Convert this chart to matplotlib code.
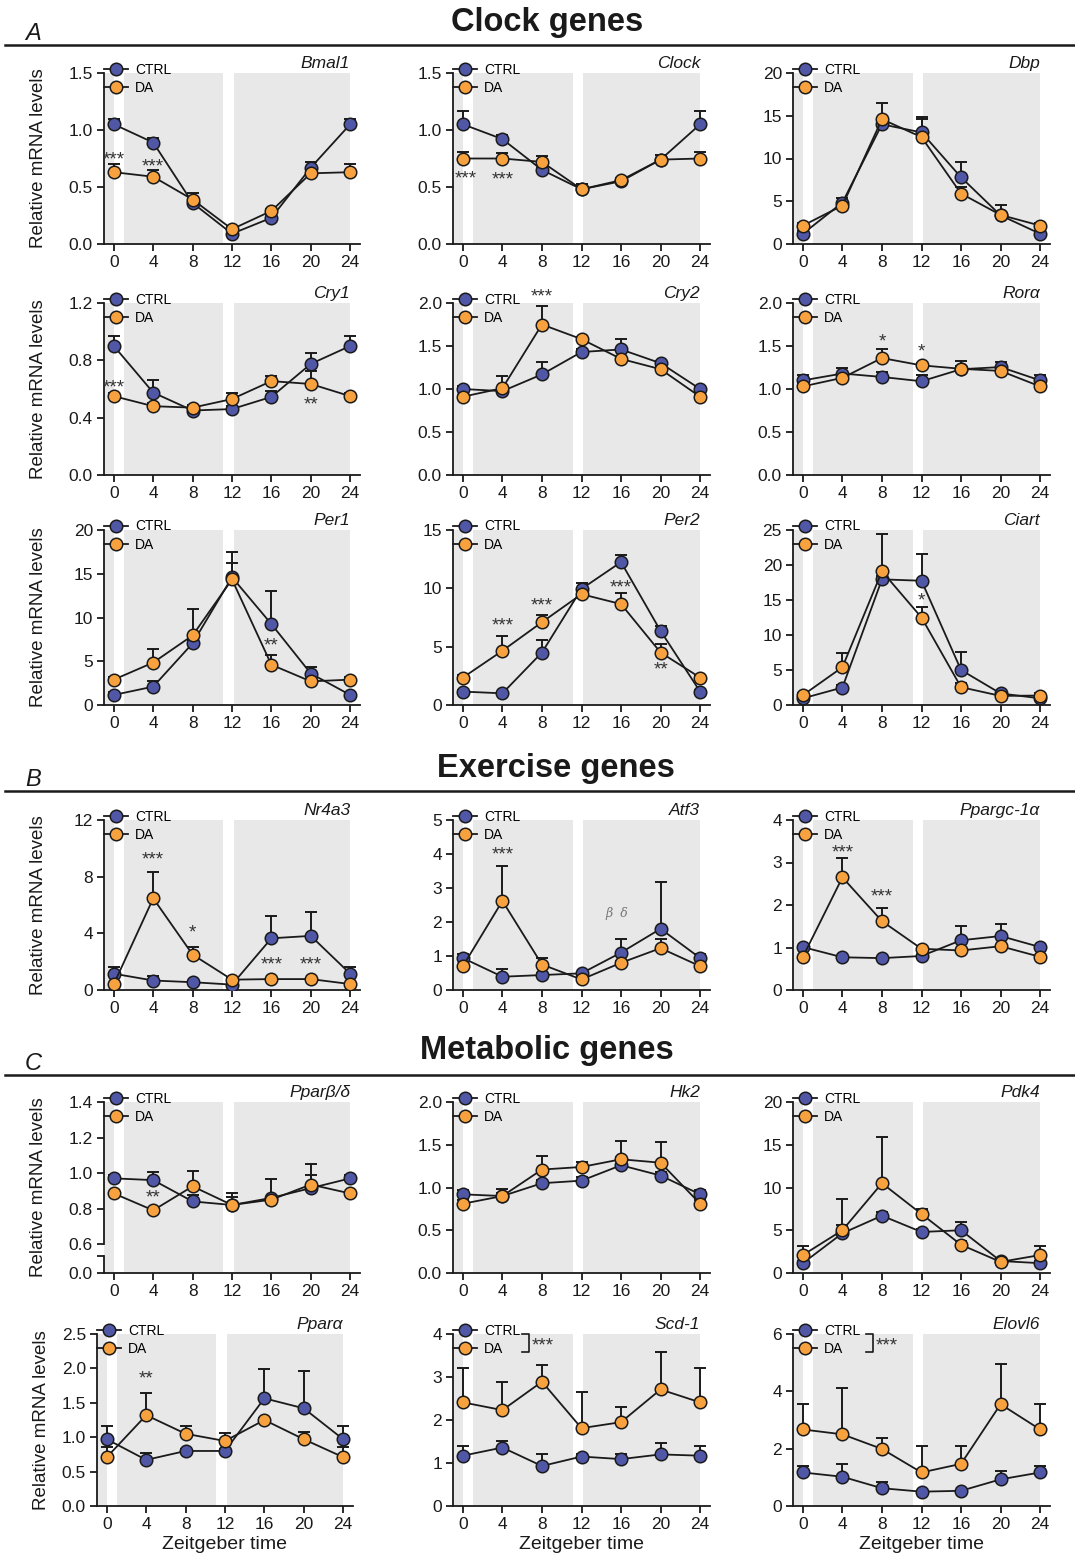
import numpy as np
import matplotlib.pyplot as plt
from matplotlib.lines import Line2D

plt.rcParams['font.family'] = ['Liberation Sans', 'DejaVu Sans']

zt = [0, 4, 8, 12, 16, 20, 24]

# mean and upper SEM per gene, CTRL vs DA
bmal1_ctrl = [1.05, 0.89, 0.36, 0.09, 0.23, 0.67, 1.05]
bmal1_ctrl_err = [0.05, 0.04, 0.03, 0.02, 0.02, 0.05, 0.05]
bmal1_da = [0.63, 0.59, 0.39, 0.13, 0.29, 0.62, 0.63]
bmal1_da_err = [0.07, 0.06, 0.06, 0.02, 0.02, 0.03, 0.07]

clock_ctrl = [1.05, 0.92, 0.65, 0.48, 0.55, 0.74, 1.05]
clock_ctrl_err = [0.12, 0.035, 0.02, 0.05, 0.02, 0.04, 0.12]
clock_da = [0.75, 0.75, 0.72, 0.48, 0.56, 0.74, 0.75]
clock_da_err = [0.06, 0.05, 0.05, 0.05, 0.02, 0.04, 0.06]

dbp_ctrl = [1.2, 4.85, 14.0, 13.05, 7.8, 3.35, 1.2]
dbp_ctrl_err = [0.3, 0.5, 0.4, 1.85, 1.8, 0.4, 0.3]
dbp_da = [2.15, 4.5, 14.6, 12.5, 5.9, 3.4, 2.15]
dbp_da_err = [0.3, 0.4, 1.9, 2.1, 0.8, 1.2, 0.3]

cry1_ctrl = [0.90, 0.575, 0.45, 0.46, 0.545, 0.775, 0.90]
cry1_ctrl_err = [0.07, 0.09, 0.02, 0.02, 0.04, 0.075, 0.07]
cry1_da = [0.55, 0.48, 0.47, 0.53, 0.655, 0.635, 0.55]
cry1_da_err = [0.02, 0.02, 0.02, 0.04, 0.035, 0.09, 0.02]

cry2_ctrl = [1.0, 0.975, 1.17, 1.43, 1.46, 1.30, 1.0]
cry2_ctrl_err = [0.03, 0.03, 0.14, 0.04, 0.12, 0.03, 0.03]
cry2_da = [0.91, 1.01, 1.75, 1.58, 1.35, 1.23, 0.91]
cry2_da_err = [0.02, 0.14, 0.22, 0.03, 0.03, 0.03, 0.02]

rora_ctrl = [1.10, 1.18, 1.14, 1.09, 1.23, 1.255, 1.10]
rora_ctrl_err = [0.06, 0.06, 0.06, 0.07, 0.04, 0.055, 0.06]
rora_da = [1.03, 1.13, 1.36, 1.275, 1.235, 1.21, 1.03]
rora_da_err = [0.03, 0.05, 0.10, 0.03, 0.09, 0.04, 0.03]

per1_ctrl = [1.15, 2.1, 7.05, 14.6, 9.25, 3.6, 1.15]
per1_ctrl_err = [0.3, 0.65, 0.4, 1.6, 3.8, 0.75, 0.3]
per1_da = [2.9, 4.85, 7.95, 14.35, 4.6, 2.7, 2.9]
per1_da_err = [0.3, 1.6, 3.05, 3.1, 1.1, 0.3, 0.3]

per2_ctrl = [1.15, 1.0, 4.5, 9.95, 12.25, 6.35, 1.15]
per2_ctrl_err = [0.15, 0.15, 1.05, 0.55, 0.6, 0.45, 0.15]
per2_da = [2.35, 4.65, 7.1, 9.5, 8.65, 4.5, 2.35]
per2_da_err = [0.2, 1.25, 0.6, 0.2, 0.95, 0.7, 0.2]

ciart_ctrl = [0.95, 2.5, 17.95, 17.75, 5.0, 1.65, 0.95]
ciart_ctrl_err = [0.3, 0.3, 0.5, 3.8, 2.6, 0.3, 0.3]
ciart_da = [1.4, 5.4, 19.1, 12.5, 2.55, 1.3, 1.35]
ciart_da_err = [0.3, 2.0, 5.4, 1.5, 0.6, 0.3, 0.3]

nr4a3_ctrl = [1.15, 0.67, 0.55, 0.38, 3.65, 3.82, 1.15]
nr4a3_ctrl_err = [0.47, 0.32, 0.1, 0.1, 1.57, 1.72, 0.47]
nr4a3_da = [0.42, 6.47, 2.5, 0.73, 0.77, 0.77, 0.42]
nr4a3_da_err = [0.1, 1.86, 0.56, 0.1, 0.1, 0.1, 0.1]

atf3_ctrl = [0.94, 0.39, 0.44, 0.49, 1.1, 1.8, 0.94]
atf3_ctrl_err = [0.13, 0.22, 0.05, 0.05, 0.4, 1.38, 0.13]
atf3_da = [0.7, 2.62, 0.75, 0.31, 0.8, 1.23, 0.7]
atf3_da_err = [0.05, 1.02, 0.2, 0.05, 0.05, 0.26, 0.05]

ppargc_ctrl = [1.01, 0.77, 0.75, 0.80, 1.17, 1.27, 1.01]
ppargc_ctrl_err = [0.03, 0.03, 0.03, 0.03, 0.34, 0.29, 0.03]
ppargc_da = [0.78, 2.65, 1.62, 0.97, 0.93, 1.03, 0.78]
ppargc_da_err = [0.03, 0.46, 0.3, 0.03, 0.03, 0.03, 0.03]

ppard_ctrl = [0.97, 0.96, 0.84, 0.82, 0.86, 0.915, 0.97]
ppard_ctrl_err = [0.02, 0.045, 0.035, 0.065, 0.105, 0.075, 0.02]
ppard_da = [0.885, 0.79, 0.925, 0.82, 0.85, 0.935, 0.885]
ppard_da_err = [0.01, 0.01, 0.085, 0.045, 0.01, 0.115, 0.01]

hk2_ctrl = [0.92, 0.90, 1.05, 1.08, 1.26, 1.14, 0.92]
hk2_ctrl_err = [0.05, 0.08, 0.04, 0.04, 0.1, 0.04, 0.05]
hk2_da = [0.81, 0.90, 1.21, 1.24, 1.33, 1.29, 0.81]
hk2_da_err = [0.04, 0.04, 0.16, 0.06, 0.21, 0.24, 0.04]

pdk4_ctrl = [1.15, 4.65, 6.7, 4.8, 5.0, 1.4, 1.15]
pdk4_ctrl_err = [0.3, 1.0, 0.4, 0.4, 1.0, 0.3, 0.3]
pdk4_da = [2.1, 5.0, 10.5, 6.9, 3.3, 1.3, 2.1]
pdk4_da_err = [1.0, 3.6, 5.4, 0.6, 0.5, 0.3, 1.0]

ppara_ctrl = [0.97, 0.67, 0.80, 0.80, 1.565, 1.42, 0.97]
ppara_ctrl_err = [0.2, 0.1, 0.03, 0.03, 0.425, 0.54, 0.2]
ppara_da = [0.71, 1.32, 1.05, 0.945, 1.25, 0.97, 0.71]
ppara_da_err = [0.15, 0.32, 0.11, 0.115, 0.03, 0.11, 0.15]

scd1_ctrl = [1.17, 1.36, 0.93, 1.15, 1.09, 1.2, 1.17]
scd1_ctrl_err = [0.23, 0.15, 0.28, 0.05, 0.13, 0.26, 0.23]
scd1_da = [2.41, 2.23, 2.89, 1.81, 1.95, 2.71, 2.41]
scd1_da_err = [0.81, 0.66, 0.39, 0.85, 0.36, 0.88, 0.81]

elovl6_ctrl = [1.17, 1.02, 0.62, 0.50, 0.53, 0.93, 1.17]
elovl6_ctrl_err = [0.24, 0.45, 0.21, 0.03, 0.03, 0.29, 0.24]
elovl6_da = [2.67, 2.5, 1.99, 1.17, 1.47, 3.55, 2.67]
elovl6_da_err = [0.88, 1.63, 0.39, 0.92, 0.62, 1.4, 0.88]

# shaded phases (ZT)
dark_phases = [(-1, 0), (1, 11.1), (12.2, 24)]

ctrl_color = '#5057a6'
da_color = '#f7a23e'
band_color = '#e8e8e8'
ink = '#1a1a1a'

W, H = 1075, 1556
fig = plt.figure(figsize=(W / 100, H / 100), dpi=100)

col_px = [(104, 360), (453, 710), (793, 1050)]
row_px = [(73, 244), (303, 475), (530, 705), (820, 990), (1102, 1273), (1334, 1506)]


def make_ax(row, col, left=None):
    x0, x1 = col_px[col]
    if left is not None:
        x1 = x1 - (x0 - left)
        x0 = left
    y0, y1 = row_px[row]
    return fig.add_axes([x0 / W, 1 - y1 / H, (x1 - x0) / W, (y1 - y0) / H])


# (row, col, name, ctrl, ctrl_err, da, da_err, yticks, ylabels, stars)
panels = [
    (0, 0, 'Bmal1', bmal1_ctrl, bmal1_ctrl_err, bmal1_da, bmal1_da_err,
     [0, 0.5, 1.0, 1.5], '{:.1f}', [(0, 0.74, '***'), (4, 0.68, '***')]),
    (0, 1, 'Clock', clock_ctrl, clock_ctrl_err, clock_da, clock_da_err,
     [0, 0.5, 1.0, 1.5], '{:.1f}', [(0.3, 0.57, '***'), (4, 0.56, '***')]),
    (0, 2, 'Dbp', dbp_ctrl, dbp_ctrl_err, dbp_da, dbp_da_err,
     [0, 5, 10, 15, 20], '{:g}', []),
    (1, 0, 'Cry1', cry1_ctrl, cry1_ctrl_err, cry1_da, cry1_da_err,
     [0, 0.4, 0.8, 1.2], '{:.1f}', [(0, 0.61, '***'), (20, 0.49, '**')]),
    (1, 1, 'Cry2', cry2_ctrl, cry2_ctrl_err, cry2_da, cry2_da_err,
     [0, 0.5, 1.0, 1.5, 2.0], '{:.1f}', [(8, 2.07, '***')]),
    (1, 2, 'Rorα', rora_ctrl, rora_ctrl_err, rora_da, rora_da_err,
     [0, 0.5, 1.0, 1.5, 2.0], '{:.1f}', [(8, 1.55, '*'), (12, 1.43, '*')]),
    (2, 0, 'Per1', per1_ctrl, per1_ctrl_err, per1_da, per1_da_err,
     [0, 5, 10, 15, 20], '{:g}', [(16, 6.8, '**')]),
    (2, 1, 'Per2', per2_ctrl, per2_ctrl_err, per2_da, per2_da_err,
     [0, 5, 10, 15], '{:g}', [(4, 6.8, '***'), (8, 8.5, '***'), (16, 10.0, '***'), (20, 3.0, '**')]),
    (2, 2, 'Ciart', ciart_ctrl, ciart_ctrl_err, ciart_da, ciart_da_err,
     [0, 5, 10, 15, 20, 25], '{:g}', [(12, 14.8, '*')]),
    (3, 0, 'Nr4a3', nr4a3_ctrl, nr4a3_ctrl_err, nr4a3_da, nr4a3_da_err,
     [0, 4, 8, 12], '{:g}', [(4, 9.2, '***'), (8, 4.0, '*'), (16, 1.8, '***'), (20, 1.75, '***')]),
    (3, 1, 'Atf3', atf3_ctrl, atf3_ctrl_err, atf3_da, atf3_da_err,
     [0, 1, 2, 3, 4, 5], '{:g}', [(4, 3.98, '***')]),
    (3, 2, 'Ppargc-1α', ppargc_ctrl, ppargc_ctrl_err, ppargc_da, ppargc_da_err,
     [0, 1, 2, 3, 4], '{:g}', [(4, 3.23, '***'), (8, 2.18, '***')]),
    (4, 0, 'Pparβ/δ', ppard_ctrl, ppard_ctrl_err, ppard_da, ppard_da_err,
     [0.6, 0.8, 1.0, 1.2, 1.4], '{:.1f}', [(4, 0.86, '**')]),
    (4, 1, 'Hk2', hk2_ctrl, hk2_ctrl_err, hk2_da, hk2_da_err,
     [0, 0.5, 1.0, 1.5, 2.0], '{:.1f}', []),
    (4, 2, 'Pdk4', pdk4_ctrl, pdk4_ctrl_err, pdk4_da, pdk4_da_err,
     [0, 5, 10, 15, 20], '{:g}', []),
    (5, 0, 'Pparα', ppara_ctrl, ppara_ctrl_err, ppara_da, ppara_da_err,
     [0, 0.5, 1.0, 1.5, 2.0, 2.5], '{:.1f}', [(4, 1.84, '**')]),
    (5, 1, 'Scd-1', scd1_ctrl, scd1_ctrl_err, scd1_da, scd1_da_err,
     [0, 1, 2, 3, 4], '{:g}', []),
    (5, 2, 'Elovl6', elovl6_ctrl, elovl6_ctrl_err, elovl6_da, elovl6_da_err,
     [0, 2, 4, 6], '{:g}', []),
]

for row, col, name, ctrl, ctrl_err, da, da_err, yticks, fmt, stars in panels:
    shifted = (row, col) == (5, 0)
    ax = make_ax(row, col, left=97 if shifted else None)

    for a, b in dark_phases:
        ax.axvspan(a, b, color=band_color, lw=0, zorder=0)

    for vals, err in ((ctrl, ctrl_err), (da, da_err)):
        err = np.array(err)
        ax.errorbar(zt, vals, yerr=[np.zeros_like(err), err], fmt='none',
                    ecolor=ink, elinewidth=1.4, capsize=4, capthick=1.4, zorder=2)
    ax.plot(zt, ctrl, '-o', color=ink, lw=1.3, ms=9, mfc=ctrl_color, mec=ink,
            mew=1.1, label='CTRL', zorder=3)
    ax.plot(zt, da, '-o', color=ink, lw=1.3, ms=9, mfc=da_color, mec=ink,
            mew=1.1, label='DA', zorder=4)

    ax.set_xlim(-1, 25)
    ax.set_xticks(zt)
    labels = [fmt.format(t) for t in yticks]
    if name == 'Pparβ/δ':
        # broken axis: 0.0 at the bottom, gap below 0.6
        bottom = 0.437
        ax.set_ylim(bottom, yticks[-1])
        ax.set_yticks([bottom, 0.53] + yticks)
        ax.set_yticklabels(['0.0', ''] + labels)
        ax.spines['left'].set_bounds(0.6, yticks[-1])
        ax.plot([0, 0], [bottom, 0.53], color=ink, lw=1.3,
                transform=ax.get_yaxis_transform(), clip_on=False, zorder=5)
    else:
        ax.set_ylim(yticks[0], yticks[-1])
        ax.set_yticks(yticks)
        ax.set_yticklabels(labels)

    for s in ['top', 'right']:
        ax.spines[s].set_visible(False)
    for s in ['left', 'bottom']:
        ax.spines[s].set_linewidth(1.3)
        ax.spines[s].set_color(ink)
    ax.tick_params(direction='out', length=5, width=1.3, labelsize=12.5,
                   colors=ink, pad=3)

    leg = ax.legend(loc='upper left', bbox_to_anchor=(0.0, 1.06), frameon=False,
                    fontsize=10, borderpad=0, borderaxespad=0, handlelength=1.7,
                    handletextpad=0.55, labelspacing=0.3, numpoints=1)
    leg.set_zorder(6)

    ax.text(24, 1.03, name, transform=ax.get_xaxis_transform(), ha='right',
            va='baseline', fontsize=12.5, style='italic', color=ink)

    for x, y, s in stars:
        ax.text(x, y, s, ha='center', va='center', fontsize=13.5, color='#333333',
                clip_on=False, zorder=6)

    if name in ('Scd-1', 'Elovl6'):
        bx = 0.295 if name == 'Scd-1' else 0.31
        ax.plot([bx - 0.025, bx, bx, bx - 0.025], [1.0, 1.0, 0.895, 0.895],
                color=ink, lw=1.2, transform=ax.transAxes, clip_on=False, zorder=6)
        ax.text(bx + 0.01, 0.93, '***', transform=ax.transAxes, ha='left',
                va='center', fontsize=13.5, color='#333333')

    if name == 'Atf3':
        ax.text(15.6, 2.25, 'β  δ', ha='center', va='center', fontsize=9,
                style='italic', color='#777777', family=['DejaVu Serif'])

    if col == 0:
        ax.set_ylabel('Relative mRNA levels', fontsize=13.5, color=ink)
        ax.yaxis.set_label_coords(-0.182 if shifted else -0.223, 0.5)
    if row == 5:
        ax.set_xlabel('Zeitgeber time', fontsize=14, color=ink, labelpad=3)

# section headers
sections = [('A', 'Clock genes', 22, 45, 547), ('B', 'Exercise genes', 768, 791, 556),
            ('C', 'Metabolic genes', 1050, 1075, 547)]
for letter, title, ty, ly, tx in sections:
    fig.text(tx / W, 1 - ty / H, title, ha='center', va='center', fontsize=23.5,
             weight='bold', color=ink)
    fig.text(33 / W, 1 - (ly - 12) / H, letter, ha='center', va='center',
             fontsize=17, style='italic', color=ink)
    fig.add_artist(Line2D([5 / W, 1], [1 - ly / H, 1 - ly / H], color=ink, lw=1.8))

fig.savefig('out.png', dpi=100)
